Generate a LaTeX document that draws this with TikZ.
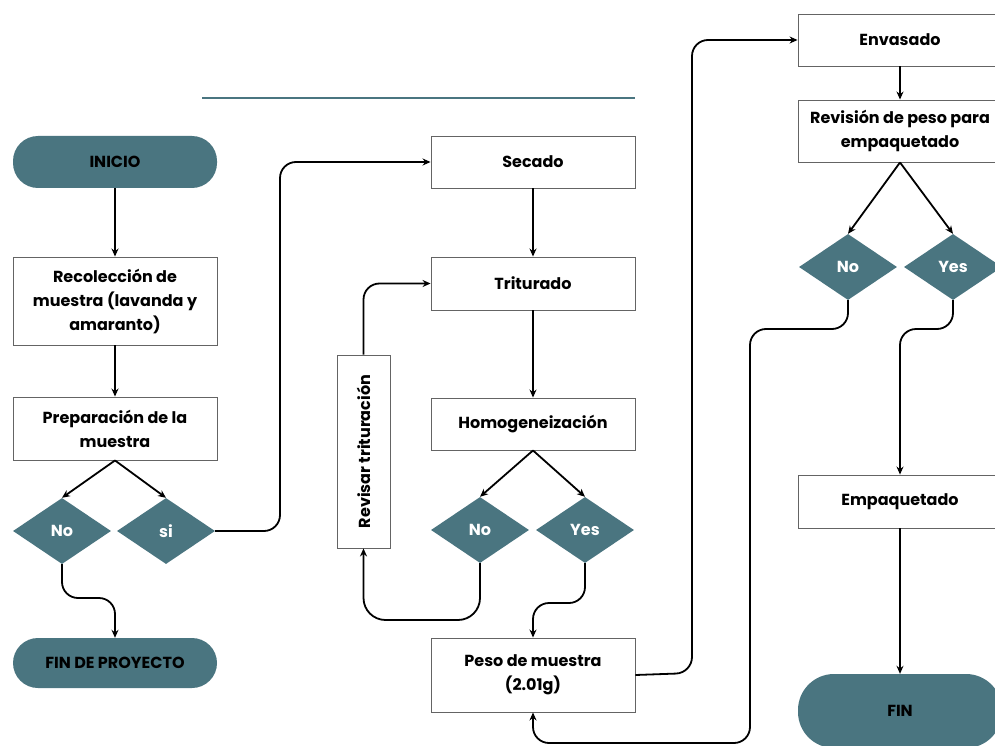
\documentclass[tikz,border=0pt]{standalone}
\usepackage{fontspec}
\setmainfont{Poppins}
\usetikzlibrary{shapes.geometric,arrows.meta}
\definecolor{tealc}{RGB}{74,117,128}
\definecolor{boxline}{RGB}{100,100,100}
\begin{document}
\begin{tikzpicture}[x=1pt,y=1pt,
  every node/.style={font=\fontsize{16}{24}\selectfont\bfseries},
  procbox/.style={draw=boxline, line width=0.9pt, fill=white, minimum width=204pt, align=center, inner sep=2pt},
  term/.style={fill=tealc, rounded corners=25pt, minimum width=204pt, text=black},
  dec/.style={diamond, fill=tealc, text=white, minimum width=98pt, minimum height=66pt, inner sep=0pt},
  conn/.style={draw=black, line width=1.8pt, -{Stealth[length=8pt,width=7pt]}, rounded corners=16pt}
]
\useasboundingbox (0,0) rectangle (995,-746);
\fill[white] (0,0) rectangle (995,-746);
\draw[tealc, line width=1.6pt] (202,-98) -- (635,-98);

% left column
\node[term, minimum height=52pt] (ini) at (115,-162) {INICIO};
\node[procbox, minimum height=88pt] (rec) at (115,-301) {Recolección de\\muestra (lavanda y\\amaranto)};
\node[procbox, minimum height=63pt] (prep) at (115,-428.5) {Preparación de la\\muestra};
\node[dec] (dno1) at (62,-531) {No};
\node[dec] (dsi1) at (166,-531) {si};
\node[term, minimum height=50pt] (fpy) at (115,-663) {FIN DE PROYECTO};

% middle column
\node[procbox, minimum height=52pt] (sec) at (533,-162) {Secado};
\node[procbox, minimum height=53pt] (tri) at (533,-283.5) {Triturado};
\node[procbox, minimum height=52pt] (hom) at (533,-424) {Homogeneización};
\node[dec] (dno2) at (480,-530) {No};
\node[dec] (dyes2) at (585,-530) {Yes};
\node[procbox, minimum width=193pt, minimum height=53pt, rotate=90] (rev) at (363.5,-451.5) {Revisar trituración};
\node[procbox, minimum height=74pt] (peso) at (533,-675) {Peso de muestra\\(2.01g)};

% right column
\node[procbox, minimum height=52pt] (env) at (900,-40) {Envasado};
\node[procbox, minimum height=62pt] (revp) at (900,-131) {Revisión de peso para\\empaquetado};
\node[dec] (dno3) at (848,-267) {No};
\node[dec] (dyes3) at (953,-267) {Yes};
\node[procbox, minimum height=53pt] (emp) at (900,-501.5) {Empaquetado};
\node[term, minimum height=74pt, rounded corners=36pt] (fin) at (900,-711) {FIN};

% connectors
\draw[conn] (ini.south) -- (rec.north);
\draw[conn] (rec.south) -- (prep.north);
\draw[conn] (prep.south) -- (dno1.north);
\draw[conn] (prep.south) -- (dsi1.north);
\draw[conn] (dno1.south) -- (62,-598) -- (115,-598) -- (fpy.north);
\draw[conn] (dsi1.east) -- (280,-531) -- (280,-162) -- (sec.west);
\draw[conn] (sec.south) -- (tri.north);
\draw[conn] (tri.south) -- (hom.north);
\draw[conn] (hom.south) -- (dno2.north);
\draw[conn] (hom.south) -- (dyes2.north);
\draw[conn, rounded corners=22pt] (dno2.south) -- (480,-620) -- (363.5,-620) -- (rev.west);
\draw[conn] (rev.east) -- (363.5,-283.5) -- (tri.west);
\draw[conn] (dyes2.south) -- (585,-603) -- (533,-603) -- (peso.north);
\draw[conn] (peso.east) -- (692,-673) -- (692,-40) -- (env.west);
\draw[conn] (env.south) -- (revp.north);
\draw[conn] (revp.south) -- (dno3.north);
\draw[conn] (revp.south) -- (dyes3.north);
\draw[conn] (dno3.south) -- (848,-329) -- (750,-329) -- (750,-743) -- (533,-743) -- (peso.south);
\draw[conn] (dyes3.south) -- (953,-329) -- (900,-329) -- (emp.north);
\draw[conn] (emp.south) -- (fin.north);
\end{tikzpicture}
\end{document}
